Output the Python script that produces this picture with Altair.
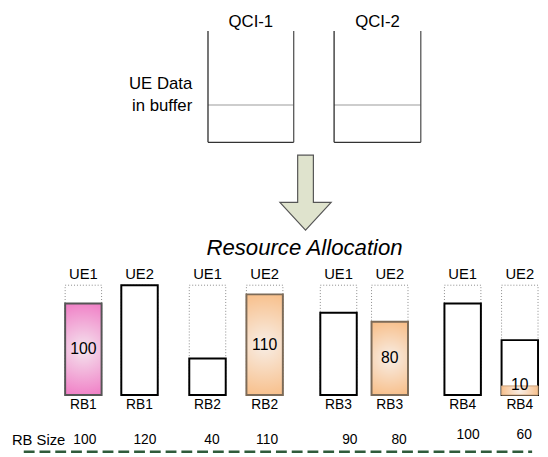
import altair as alt
import pandas as pd

# ---------------- data ----------------
ue = ["UE1", "UE2", "UE1", "UE2", "UE1", "UE2", "UE1", "UE2"]
rb = ["RB1", "RB1", "RB2", "RB2", "RB3", "RB3", "RB4", "RB4"]
rb_size = [100, 120, 40, 110, 90, 80, 100, 60]
allocated = [100, 0, 0, 110, 0, 80, 0, 10]
buffer_cap = 120
qci = ["QCI-1", "QCI-2"]

# ---------------- layout (page pixels) ----------------
bar_left = [66, 123, 192, 250, 325, 377, 451, 509]
bar_w = 37
size_x = [86, 147, 215, 271, 355, 405, 475, 532]
size_y = [443, 443, 443, 443, 443, 443, 438, 438]
buf_left = [211, 339]
buf_right = [298, 427]
buf_top, buf_level, buf_bottom = 28, 103, 141

BASE = 397.5            # page y of the RB baseline
PPU = 111.5 / 120       # pixels per RB unit


def u(py):
    return (BASE - py) / PPU


W, H = 540, 449
XS = alt.Scale(domain=[8, 8 + W], nice=False, zero=False)
YS = alt.Scale(domain=[u(8 + H), u(8)], nice=False, zero=False)
FONT = "Liberation Sans"


def X(f):
    return alt.X(f, type="quantitative", scale=XS, axis=None)


def Y(f):
    return alt.Y(f, type="quantitative", scale=YS, axis=None)


bars = pd.DataFrame({
    "ue": ue, "rb": rb, "size": rb_size, "alloc": allocated,
    "x": bar_left, "x2": [v + bar_w for v in bar_left],
})
bars["xc"] = (bars["x"] + bars["x2"]) / 2
bars["cap"] = buffer_cap
bars["zero"] = 0
bars["label_y"] = [a / 2 if a >= 30 else a + 1 for a in allocated]
bars["ue_y"] = u(275)
bars["rb_y"] = u(408)
bars["size_x"] = size_x
bars["size_y"] = [u(v) for v in size_y]

dotted = alt.Chart(bars).mark_rect(
    fill="white", stroke="#8a8a8a", strokeWidth=1, strokeDash=[1, 2]
).encode(x=X("x"), x2="x2", y=Y("zero"), y2="cap")

outline = alt.Chart(bars).transform_filter("datum.alloc < datum.size").mark_rect(
    fill="white", stroke="black", strokeWidth=2
).encode(x=X("x"), x2="x2", y=Y("zero"), y2="size")

pink_grad = alt.Gradient(
    gradient="radial",
    stops=[alt.GradientStop(color="#f4e4ee", offset=0),
           alt.GradientStop(color="#f07ac4", offset=1)],
    x1=0.5, y1=0.5, r1=0, x2=0.5, y2=0.5, r2=0.55,
)
orange_grad = alt.Gradient(
    gradient="radial",
    stops=[alt.GradientStop(color="#f8eee6", offset=0),
           alt.GradientStop(color="#f8bd86", offset=1)],
    x1=0.5, y1=0.5, r1=0, x2=0.5, y2=0.5, r2=0.55,
)

pink = alt.Chart(bars).transform_filter(
    "datum.ue == 'UE1' && datum.alloc > 0"
).mark_rect(fill=pink_grad, stroke="#555555", strokeWidth=2).encode(
    x=X("x"), x2="x2", y=Y("zero"), y2="alloc")

orange_full = alt.Chart(bars).transform_filter(
    "datum.ue == 'UE2' && datum.alloc > 0 && datum.alloc == datum.size"
).mark_rect(fill=orange_grad, stroke="#7d6b58", strokeWidth=2).encode(
    x=X("x"), x2="x2", y=Y("zero"), y2="alloc")

orange_part = alt.Chart(bars).transform_filter(
    "datum.ue == 'UE2' && datum.alloc > 0 && datum.alloc < datum.size"
).mark_rect(fill=orange_grad, stroke="#c8a27c", strokeWidth=1).encode(
    x=X("x"), x2="x2", y=Y("zero"), y2="alloc")

alloc_text = alt.Chart(bars).transform_filter("datum.alloc > 0").mark_text(
    font=FONT, fontSize=16, color="black", baseline="middle"
).encode(x=X("xc"), y=Y("label_y"), text="alloc:Q")

ue_text = alt.Chart(bars).mark_text(
    font=FONT, fontSize=15, color="black", baseline="middle"
).encode(x=X("xc"), y=Y("ue_y"), text="ue:N")

rb_text = alt.Chart(bars).mark_text(
    font=FONT, fontSize=14, color="black", baseline="middle"
).encode(x=X("xc"), y=Y("rb_y"), text="rb:N")

size_text = alt.Chart(bars).mark_text(
    font=FONT, fontSize=14, color="black", baseline="middle"
).encode(x=X("size_x"), y=Y("size_y"), text="size:Q")

# ---------------- buffers ----------------
bufs = pd.DataFrame({"qci": qci, "l": buf_left, "r": buf_right})
bufs["c"] = (bufs["l"] + bufs["r"]) / 2
bufs["top"] = u(buf_top)
bufs["lvl"] = u(buf_level)
bufs["bot"] = u(buf_bottom)
bufs["lab"] = u(19)

buf_left_rule = alt.Chart(bufs).mark_rule(color="#2a2a2a", strokeWidth=1.3).encode(
    x=X("l"), y=Y("top"), y2="bot")
buf_right_rule = alt.Chart(bufs).mark_rule(color="#555555", strokeWidth=1.3).encode(
    x=X("r"), y=Y("top"), y2="bot")
buf_bottom_rule = alt.Chart(bufs).mark_rule(color="#333333", strokeWidth=1.3).encode(
    x=X("l"), x2="r", y=Y("bot"))
buf_level_rule = alt.Chart(bufs).mark_rule(color="#bdbdbd", strokeWidth=1.5).encode(
    x=X("l"), x2="r", y=Y("lvl"))
qci_text = alt.Chart(bufs).mark_text(
    font=FONT, fontSize=17, color="black", baseline="middle"
).encode(x=X("c"), y=Y("lab"), text="qci:N")

notes = pd.DataFrame({
    "t": ["UE Data", "in buffer", "Resource Allocation", "RB Size"],
    "x": [195, 195, 309, 12],
    "y": [u(82), u(104), u(248), u(443)],
})
note_right = alt.Chart(notes.iloc[0:2]).mark_text(
    font=FONT, fontSize=17, color="black", align="right", baseline="middle"
).encode(x=X("x"), y=Y("y"), text="t:N")
note_title = alt.Chart(notes.iloc[2:3]).mark_text(
    font=FONT, fontSize=22.5, fontStyle="italic", color="black", align="center",
    baseline="middle"
).encode(x=X("x"), y=Y("y"), text="t:N")
note_size = alt.Chart(notes.iloc[3:4]).mark_text(
    font=FONT, fontSize=15, color="black", align="left", baseline="middle"
).encode(x=X("x"), y=Y("y"), text="t:N")

# ---------------- arrow (custom symbol, 76 px box centred at 310, 192) ----
ARROW_PATH = ("M -0.21 -1 L 0.21 -1 L 0.21 0.263 L 0.684 0.263 L 0 1 "
              "L -0.684 0.263 L -0.21 0.263 Z")
arrow = pd.DataFrame({"x": [310], "y": [u(192)]})
arrow_mark = alt.Chart(arrow).mark_point(
    shape=ARROW_PATH, size=76 * 76, filled=True, fill="#dfe3cd", fillOpacity=1,
    stroke="#555555", strokeWidth=1.2, opacity=1
).encode(x=X("x"), y=Y("y"))

# ---------------- dashed line ----------------
dash = pd.DataFrame({"x": [24], "x2": [540], "y": [u(455)]})
dash_rule = alt.Chart(dash).mark_rule(
    color="#2f5b3b", strokeWidth=2.5, strokeDash=[11, 5]
).encode(x=X("x"), x2="x2", y=Y("y"))

chart = alt.layer(
    buf_level_rule, buf_left_rule, buf_right_rule, buf_bottom_rule, qci_text,
    note_right, arrow_mark, note_title,
    dotted, outline, pink, orange_full, orange_part,
    alloc_text, ue_text, rb_text, note_size, size_text, dash_rule,
).properties(
    width=W, height=H, padding=0, autosize=alt.AutoSizeParams(type="none"),
    background="white",
).configure_view(stroke=None)

chart.save("out.html", embed_options={"renderer": "svg", "actions": False})
